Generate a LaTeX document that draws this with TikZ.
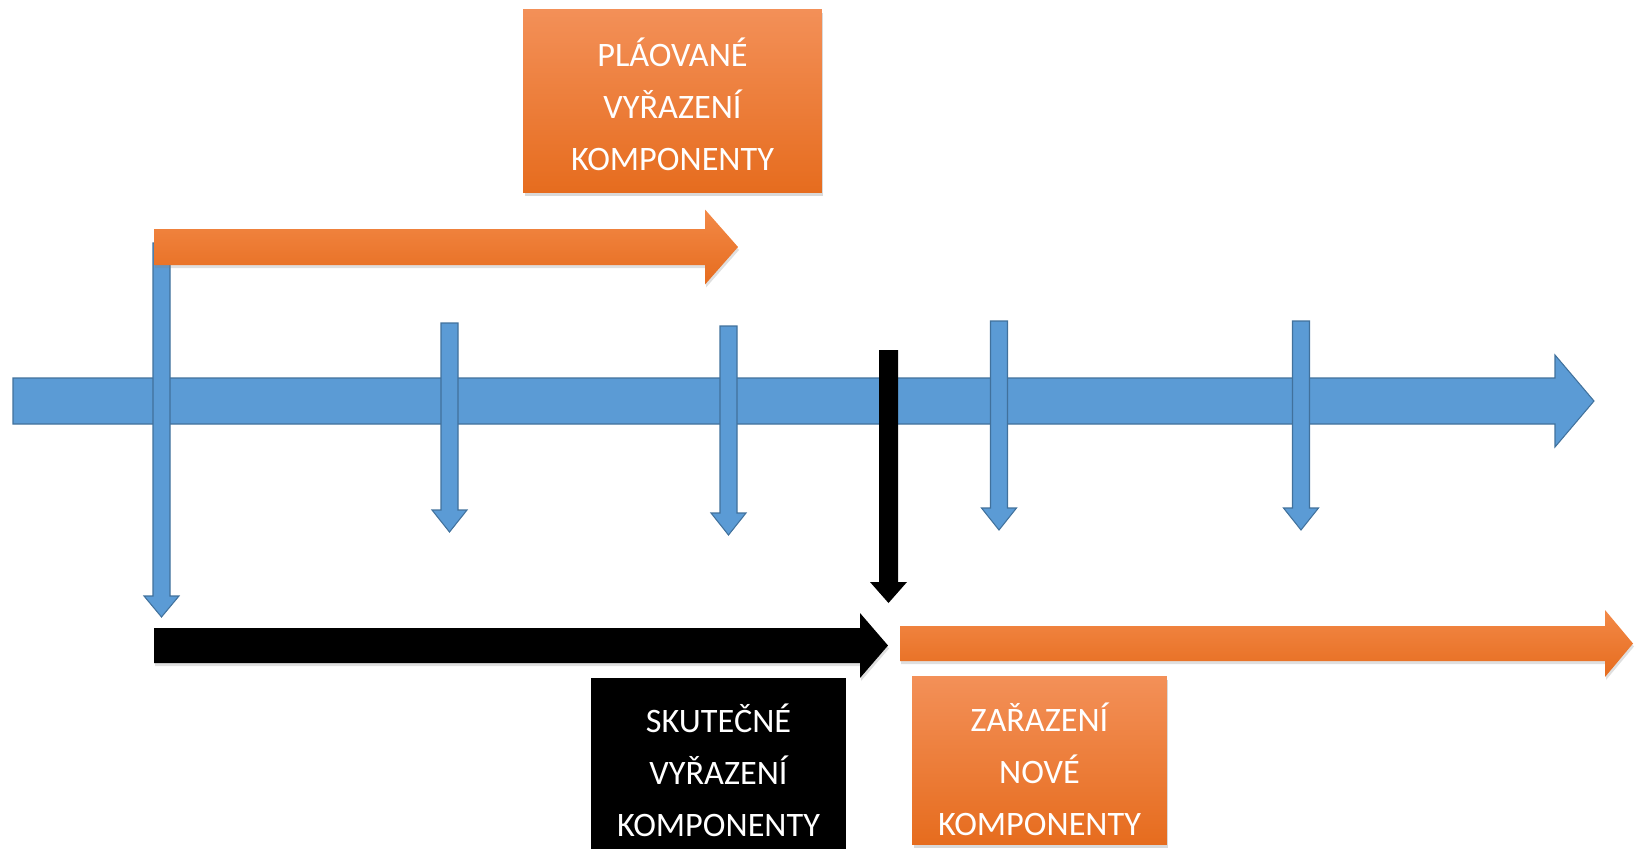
\documentclass[tikz,border=0pt]{standalone}
\usepackage{fontspec}
\usepackage{xcolor}
\usepackage{tikz}
\usetikzlibrary{calc}
\usetikzlibrary{shadows}
\newfontfamily\boxfont{Carlito}
\definecolor{axisblue}{HTML}{5B9BD5}
\definecolor{axisedge}{HTML}{41719C}
\definecolor{orangetop}{HTML}{F39058}
\definecolor{orangemid}{HTML}{F27E2E}
\definecolor{orangebot}{HTML}{E66C1E}
\def\harrow[#1](#2)(#3)(#4:#5:#6){\path[#1] ($(#2)+(0,-#4)$) -- ($(#3)+(-#6,-#4)$) -- ($(#3)+(-#6,-#5)$) -- (#3) -- ($(#3)+(-#6,#5)$) -- ($(#3)+(-#6,#4)$) -- ($(#2)+(0,#4)$) -- cycle}
\def\varrow[#1](#2)(#3)(#4:#5:#6){\path[#1] ($(#2)+(-#4,0)$) -- ($(#3)+(-#4,-#6)$) -- ($(#3)+(-#5,-#6)$) -- (#3) -- ($(#3)+(#5,-#6)$) -- ($(#3)+(#4,-#6)$) -- ($(#2)+(#4,0)$) -- cycle}

\begin{document}
\begin{tikzpicture}[x=0.02cm,y=-0.02cm,
    bluebar/.style={fill=axisblue,draw=axisedge,line width=0.6pt,line join=miter},
    orangebar/.style={top color=orangetop!60!orangemid,bottom color=orangebot,drop shadow={opacity=0.25,shadow xshift=0.02cm,shadow yshift=-0.06cm}},
    blackbar/.style={fill=black,drop shadow={opacity=0.25,shadow xshift=0.02cm,shadow yshift=-0.06cm}},
    orangebox/.style={rectangle,inner sep=0pt,top color=orangetop,bottom color=orangebot,drop shadow={opacity=0.3,shadow xshift=0.03cm,shadow yshift=-0.07cm}},
    blackbox/.style={rectangle,inner sep=0pt,fill=black},
    boxtext/.style={text=white,align=center,inner sep=0pt,font={\boxfont\fontsize{19.5}{29.6}\selectfont}}]
        \useasboundingbox (0,0) rectangle (1641,849);
        \clip (0,0) rectangle (1641,849);

        %%% COORDINATES %%%
        \coordinate (axisstart) at (13,401);
        \coordinate (axisend) at (1594,401);
        \coordinate (planstart) at (154,247);
        \coordinate (planend) at (738,247);
        \coordinate (realstart) at (154,645.5);
        \coordinate (realend) at (888,645.5);
        \coordinate (newstart) at (900,643.5);
        \coordinate (newend) at (1633,643.5);

        %%% TIME AXIS & CHECKS %%%
        \harrow[bluebar](axisstart)(axisend)(23:46:39);
        \varrow[bluebar](161.5,243)(161.5,617)(8.5:17.5:21);
        \foreach \tx/\ty in {449.5/323,728.5/326,999/321,1301/321}
            \varrow[bluebar](\tx,\ty)(\tx,\ty+209)(8.5:17.5:22);
        \varrow[fill=black](888.5,350)(888.5,603)(9.5:18.5:21);

        %%% PLANNED %%%
        \harrow[orangebar](planstart)(planend)(18:37.5:33);
        \node[orangebox,minimum width=5.98cm,minimum height=3.68cm] (planned) at (672.5,101) {};
        \node[boxtext] (plannedtext) at (672.5,104.5) {PLÁOVANÉ\\VYŘAZENÍ\\KOMPONENTY};

        %%% ACTUAL & NEW %%%
        \harrow[blackbar](realstart)(realend)(17.5:32.5:28);
        \harrow[orangebar](newstart)(newend)(17.5:33.5:28);
        \node[blackbox,minimum width=5.1cm,minimum height=3.8cm] (actual) at (718.5,773) {};
        \node[boxtext] (actualtext) at (718.5,770.5) {SKUTEČNÉ\\VYŘAZENÍ\\KOMPONENTY};
        \node[orangebox,minimum width=5.1cm,minimum height=3.38cm] (newcomp) at (1039.5,760.5) {};
        \node[boxtext] (newtext) at (1039.5,769) {ZAŘAZENÍ\\NOVÉ\\KOMPONENTY};
    \end{tikzpicture}
\end{document}
